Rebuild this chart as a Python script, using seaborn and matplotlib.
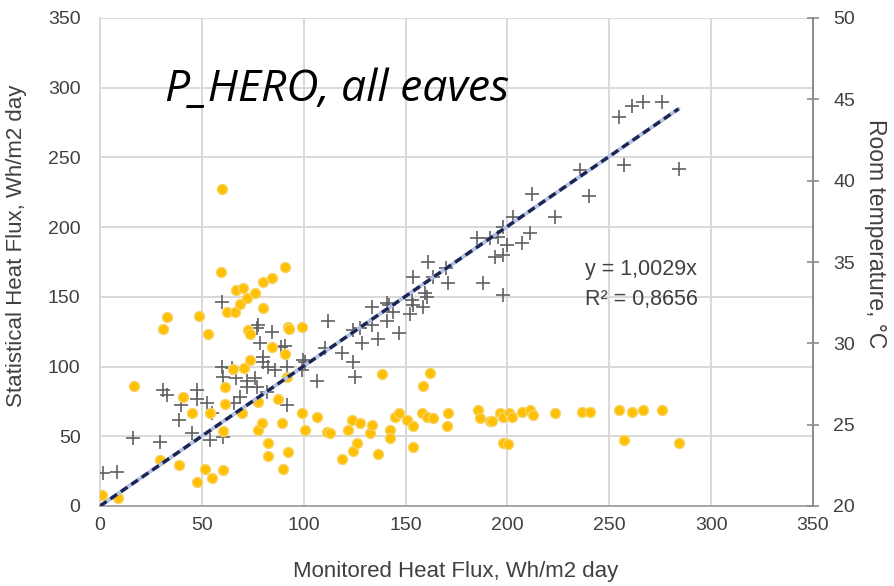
import matplotlib
matplotlib.use("Agg")
import matplotlib.pyplot as plt
from matplotlib import font_manager
import seaborn as sns
import pandas as pd
import numpy as np

# Monitored vs. statistical heat flux (left axis), Wh/m2 day
flux_monitored = [1.5, 8.3, 16, 29.5, 31, 33, 39, 40, 45, 47.6, 47.6, 52.5, 54, 55, 60.4,
                  60, 60, 65, 60.4, 66, 67, 68.7, 72, 72, 76, 77, 77, 77.6, 78.6, 80,
                  80, 82, 82.5, 84.5, 86, 89, 91, 91.8, 92, 99, 99.7, 100.7, 106.5, 110.5, 112,
                  119, 124, 124, 125, 127.7, 128.6, 133.5, 133.5, 136.5, 141, 141, 142, 144, 147,
                  152, 153, 153.7, 153.7, 158.6, 159.6, 160.5, 161, 163.5, 170, 171, 185, 188,
                  191.5, 194, 195.4, 198, 198, 198, 199.8, 202.8, 207, 211, 212, 223.4, 235.7,
                  240, 254.8, 257, 261, 266.7, 276, 284]
flux_statistical = [23.7, 24.4, 48.7, 46, 83, 79.6, 61.7, 72.4, 52, 83, 77, 74, 47, 66.7, 49.5,
                    146, 100, 99, 92.5, 74, 92, 78, 90, 85, 92, 85, 128, 130, 117, 103,
                    107, 82, 100, 125, 97.5, 114, 115, 100, 72.4, 97.5, 104.7, 103, 90, 113, 133,
                    110, 103, 126, 92.5, 128, 117, 142.7, 130, 120, 133, 145.5, 144, 139, 124,
                    138, 148, 144, 164, 142.7, 153, 150, 175, 164, 171, 160, 192, 160,
                    192, 178.5, 193, 151, 180, 200, 187, 207, 188.6, 196, 224, 207, 241,
                    222, 279, 244.5, 287, 290, 290, 241.6]

# Room temperature (right axis), °C
temp_monitored = [1, 8.8, 16.7, 29.5, 31, 33, 38.8, 40.7, 45, 47.6, 48.6, 51.6, 53, 54, 55,
                  59.4, 60, 60.4, 60.4, 61.4, 61.4, 62.4, 65.3, 66.3, 67, 68.7, 69.7, 70, 70.7,
                  72, 72.7, 73.6, 73.6, 76, 77.6, 77.6, 79.5, 80, 80, 82.5, 82.5, 84.5, 84.5, 87.4,
                  89.4, 90, 90.8, 91, 91.8, 92.3, 92.3, 92.8, 99, 99, 100.7, 106.5, 111.5, 113,
                  118.8, 121.8, 123.7, 124, 126, 127.7, 132.6, 133.5, 136.5, 138.5, 142.4, 142.4,
                  145, 147, 150.7, 153.7, 153.7, 158, 158.6, 160.5, 162, 163.5, 170.4, 171, 185.6,
                  186.6, 191.5, 192.5, 196.4, 198, 198, 200.3, 201, 202, 207, 211, 212.7, 223.4,
                  236.6, 240.6, 254.8, 257, 261, 266.7, 276, 284]
room_temp = [20.7, 20.5, 27.4, 22.8, 30.9, 31.6, 22.5, 26.7, 25.7, 21.5, 31.7, 22.3, 30.6, 25.7, 21.7,
             34.4, 39.5, 24.6, 22.2, 27.3, 26.3, 31.9, 28.4, 31.9, 33.3, 32.4, 25.7, 33.4, 28.5,
             32.8, 30.8, 30.6, 29.0, 33.1, 26.4, 24.7, 25.1, 33.8, 32.2, 23.9, 23.1, 34.0, 29.8, 26.6,
             25.1, 22.3, 34.7, 29.35, 27.9, 31.0, 23.3, 30.9, 31.0, 25.7, 24.7, 25.5, 24.55, 24.5,
             22.9, 24.7, 25.3, 23.4, 23.9, 25.1, 24.5, 25.0, 23.2, 28.1, 24.7, 24.2,
             25.5, 25.7, 25.3, 24.9, 23.6, 25.7, 27.4, 25.5, 28.2, 25.4, 24.9, 25.7, 25.9,
             25.4, 25.2, 25.2, 25.7, 25.5, 23.9, 23.8, 25.7, 25.5, 25.8, 25.9, 25.6, 25.7,
             25.8, 25.8, 25.9, 24.05, 25.8, 25.9, 25.9, 23.9]

trend_slope = 1.0029
trend_r2 = 0.8656

x_ticks = [0, 50, 100, 150, 200, 250, 300, 350]
left_ticks = [0, 50, 100, 150, 200, 250, 300, 350]
right_ticks = [20, 25, 30, 35, 40, 45, 50]

flux_df = pd.DataFrame({"monitored": flux_monitored, "statistical": flux_statistical})
temp_df = pd.DataFrame({"monitored": temp_monitored, "temperature": room_temp})
trend_x = np.array([0.0, max(flux_monitored)])
trend_df = pd.DataFrame({"monitored": trend_x, "fit": trend_slope * trend_x})

sns.set_theme(style="white")
installed = {f.name for f in font_manager.fontManager.ttflist}
body_font = "Liberation Sans Narrow" if "Liberation Sans Narrow" in installed else "Liberation Sans"
plt.rcParams["font.family"] = [body_font, "DejaVu Sans"]

W, H = 894, 586
fig = plt.figure(figsize=(W / 100, H / 100), dpi=100)
ax = fig.add_axes([100 / W, 80 / H, 713 / W, 488 / H])
ax2 = ax.twinx()

text_col = "#404040"
grid_col = "#D9D9D9"

# Statistical heat flux as plus markers
sns.scatterplot(data=flux_df, x="monitored", y="statistical", marker="+", s=90,
                color="#606060", linewidth=1.2, ax=ax, zorder=3, legend=False)

# Room temperature as amber dots on the secondary axis
sns.scatterplot(data=temp_df, x="monitored", y="temperature", s=52, color="#FFC000",
                edgecolor="#F6D36B", linewidth=1.0, ax=ax2, zorder=2, legend=False)

# Linear trend through the origin, drawn in heat-flux coordinates
sns.lineplot(data=trend_df, x="monitored", y="fit", ax=ax2, transform=ax.transData,
             color="#B4C0E0", linewidth=2.8, zorder=4, legend=False)
sns.lineplot(data=trend_df, x="monitored", y="fit", ax=ax2, transform=ax.transData,
             color="#1B2452", linewidth=2.4, zorder=5, legend=False)
ax2.lines[-1].set_dashes((2.4, 1.4))

ax.set_xlim(0, 350)
ax.set_ylim(0, 350)
ax.set_xticks(x_ticks)
ax.set_yticks(left_ticks)
ax2.set_ylim(20, 50)
ax2.set_yticks(right_ticks)

ax.grid(True, color=grid_col, linewidth=1.4)
ax.set_axisbelow(True)
ax2.grid(False)

for side in ["top", "right"]:
    ax.spines[side].set_visible(False)
ax.spines["left"].set_color(grid_col)
ax.spines["left"].set_linewidth(1.4)
ax.spines["bottom"].set_color("#A6A6A6")
ax.spines["bottom"].set_linewidth(1.4)
for side in ["top", "left", "bottom"]:
    ax2.spines[side].set_visible(False)
ax2.spines["right"].set_color("#8C8C8C")
ax2.spines["right"].set_linewidth(1.4)

ax.tick_params(axis="both", length=0, labelsize=14, labelcolor=text_col)
ax.tick_params(axis="y", pad=14)
ax.tick_params(axis="x", pad=8)
ax2.tick_params(axis="y", direction="inout", length=9, width=1.2, color="#8C8C8C",
                labelsize=14, labelcolor=text_col, pad=10)

ax.set_xlabel("")
ax.set_ylabel("")
ax2.set_ylabel("")

fig.text(17 / W, 1 - 246 / H, "Statistical Heat Flux, Wh/m2 day", rotation=90,
         ha="center", va="center", fontsize=16, color=text_col)
fig.text(456 / W, 1 - 572 / H, "Monitored Heat Flux, Wh/m2 day",
         ha="center", va="center", fontsize=16, color=text_col)
fig.text(876 / W, 1 - 234 / H, "Room temperature, °C", rotation=270,
         ha="center", va="center", fontsize=16.5, color=text_col)

ax.text((165 - 100) / 713, (506 - 101) / 488, "P_HERO, all eaves", transform=ax.transAxes,
        fontsize=32, fontstyle="italic", family=["Open Sans", "DejaVu Sans"],
        color="black", ha="left", va="baseline", zorder=6)

ax.text((585 - 100) / 713, (506 - 270) / 488, f"y = {trend_slope:.4f}x".replace(".", ","),
        transform=ax.transAxes, fontsize=15.5, color=text_col, ha="left", va="center", zorder=6)
ax.text((585 - 100) / 713, (506 - 300) / 488, f"R² = {trend_r2:.4f}".replace(".", ","),
        transform=ax.transAxes, fontsize=15.5, color=text_col, ha="left", va="center", zorder=6)

fig.savefig("out.png", dpi=100)
